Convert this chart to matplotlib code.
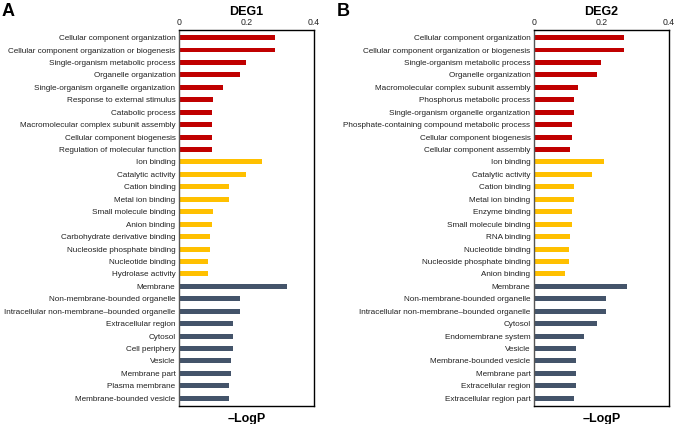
import matplotlib
matplotlib.use("Agg")
import matplotlib.pyplot as plt
import numpy as np

plt.rcParams["font.family"] = ["Liberation Sans", "DejaVu Sans"]

RED = "#C00000"
YELLOW = "#FFC000"
SLATE = "#44546A"

deg1_bp = ["Cellular component organization",
           "Cellular component organization or biogenesis",
           "Single-organism metabolic process",
           "Organelle organization",
           "Single-organism organelle organization",
           "Response to external stimulus",
           "Catabolic process",
           "Macromolecular complex subunit assembly",
           "Cellular component biogenesis",
           "Regulation of molecular function"]
deg1_bp_vals = [0.284, 0.284, 0.200, 0.181, 0.131, 0.102, 0.097, 0.097, 0.097, 0.097]

deg1_mf = ["Ion binding", "Catalytic activity", "Cation binding",
           "Metal ion binding", "Small molecule binding", "Anion binding",
           "Carbohydrate derivative binding", "Nucleoside phosphate binding",
           "Nucleotide binding", "Hydrolase activity"]
deg1_mf_vals = [0.245, 0.200, 0.148, 0.148, 0.102, 0.097, 0.092, 0.092, 0.086, 0.086]

deg1_cc = ["Membrane", "Non-membrane-bounded organelle",
           "Intracellular non-membrane\u2013bounded organelle",
           "Extracellular region", "Cytosol", "Cell periphery", "Vesicle",
           "Membrane part", "Plasma membrane", "Membrane-bounded vesicle"]
deg1_cc_vals = [0.319, 0.181, 0.181, 0.161, 0.161, 0.161, 0.154, 0.154, 0.148, 0.148]

deg2_bp = ["Cellular component organization",
           "Cellular component organization or biogenesis",
           "Single-organism metabolic process",
           "Organelle organization",
           "Macromolecular complex subunit assembly",
           "Phosphorus metabolic process",
           "Single-organism organelle organization",
           "Phosphate-containing compound metabolic process",
           "Cellular component biogenesis",
           "Cellular component assembly"]
deg2_bp_vals = [0.267, 0.267, 0.200, 0.188, 0.131, 0.118, 0.118, 0.113, 0.113, 0.107]

deg2_mf = ["Ion binding", "Catalytic activity", "Cation binding",
           "Metal ion binding", "Enzyme binding", "Small molecule binding",
           "RNA binding", "Nucleotide binding", "Nucleoside phosphate binding",
           "Anion binding"]
deg2_mf_vals = [0.208, 0.173, 0.118, 0.118, 0.113, 0.113, 0.107, 0.103, 0.103, 0.092]

deg2_cc = ["Membrane", "Non-membrane-bounded organelle",
           "Intracellular non-membrane\u2013bounded organelle",
           "Cytosol", "Endomembrane system", "Vesicle",
           "Membrane-bounded vesicle", "Membrane part",
           "Extracellular region", "Extracellular region part"]
deg2_cc_vals = [0.276, 0.214, 0.214, 0.187, 0.149, 0.124, 0.124, 0.124, 0.124, 0.118]


def draw_panel(fig, rect, title, groups):
    ax = fig.add_axes(rect)
    labels, vals, colors = [], [], []
    for names, v, c in groups:
        labels += names
        vals += v
        colors += [c] * len(names)
    y = np.arange(len(labels))
    ax.barh(y, vals, height=0.4, color=colors)
    ax.set_ylim(len(labels) - 0.4, -0.6)
    ax.set_xlim(0, 0.4)
    ax.set_xticks([0, 0.2, 0.4])
    ax.set_xticklabels(["0", "0.2", "0.4"])
    ax.xaxis.tick_top()
    ax.set_yticks(y)
    ax.set_yticklabels(labels)
    ax.tick_params(axis="y", length=0, labelsize=5.85, colors="#222222", pad=2.5)
    ax.tick_params(axis="x", length=0, labelsize=6.3, colors="#222222", pad=2.5)
    for s in ax.spines.values():
        s.set_linewidth(1.0)
        s.set_color("black")
    ax.spines["left"].set_color("#555555")
    ax.set_xlabel("\u2013LogP", fontsize=9, fontweight="bold", labelpad=5)
    fig.text(rect[0] + rect[2] / 2, 0.972, title, ha="center", va="center",
             fontsize=9, fontweight="bold")
    return ax


fig = plt.figure(figsize=(6.75, 4.24), dpi=100)
draw_panel(fig, [0.265, 0.043, 0.2, 0.886], "DEG1",
           [(deg1_bp, deg1_bp_vals, RED), (deg1_mf, deg1_mf_vals, YELLOW),
            (deg1_cc, deg1_cc_vals, SLATE)])
draw_panel(fig, [0.791, 0.043, 0.2, 0.886], "DEG2",
           [(deg2_bp, deg2_bp_vals, RED), (deg2_mf, deg2_mf_vals, YELLOW),
            (deg2_cc, deg2_cc_vals, SLATE)])
fig.text(0.003, 0.974, "A", fontsize=13, fontweight="bold", va="center")
fig.text(0.499, 0.974, "B", fontsize=13, fontweight="bold", va="center")

fig.savefig("out.png", dpi=100)
